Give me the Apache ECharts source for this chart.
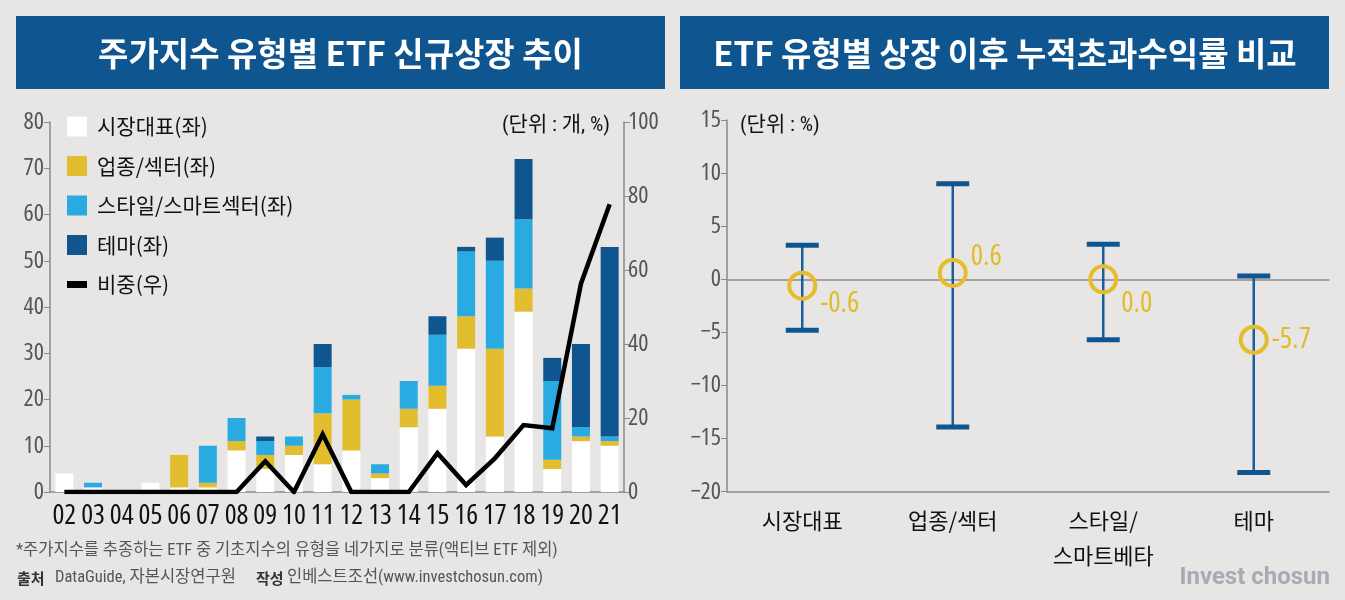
<!DOCTYPE html>
<html>
<head>
<meta charset="utf-8">
<script src="https://cdn.jsdelivr.net/npm/echarts@6/dist/echarts.min.js"></script>
<style>
html,body{margin:0;padding:0;background:#e7e6e4;}
#c{width:1345px;height:600px;}
</style>
</head>
<body>
<div id="c"></div>
<script>
// ---- Left chart data (count of new ETF listings by index type) ----
const years = ['02','03','04','05','06','07','08','09','10','11','12','13','14','15','16','17','18','19','20','21'];
const marketRep  = [4,1,0,2,1,1,9,5,8,6,9,3,14,18,31,12,39,5,11,10];
const sector     = [0,0,0,0,7,1,2,3,2,11,11,1,4,5,7,19,5,2,1,1];
const styleSmart = [0,1,0,0,0,8,5,3,2,10,1,2,6,11,14,19,15,17,2,1];
const theme      = [0,0,0,0,0,0,0,1,0,5,0,0,0,4,1,5,13,5,18,41];
const themeShare = [0,0,0,0,0,0,0,8.3,0,15.6,0,0,0,10.5,1.9,9.1,18.1,17.2,56.3,77.8];
const leftTicks = [0,10,20,30,40,50,60,70,80];
const rightTicks = [0,20,40,60,80,100];

// ---- Right chart data (cumulative excess return after listing, %) ----
const types = ['시장대표','업종/섹터','스타일/\n스마트베타','테마'];
const meanExcess = [-0.6, 0.6, 0.0, -5.7];
const upperExcess = [3.2, 9.0, 3.3, 0.3];
const lowerExcess = [-4.8, -13.9, -5.7, -18.2];
const excessTicks = [-20,-15,-10,-5,0,5,10,15];

// style constants
const NUMFAM = '"Open Sans","Roboto Condensed",sans-serif';
const NUMW = 'condensed';
const KR = '"Noto Sans CJK KR","Noto Sans",sans-serif';
const MIX = '"Roboto Condensed","Noto Sans CJK KR",sans-serif';
const labelDy = [18, -16, 24, 0];

const chart = echarts.init(document.getElementById('c'), null, {renderer:'canvas'});

const barNames = ['시장대표(좌)','업종/섹터(좌)','스타일/스마트섹터(좌)','테마(좌)'];
const barColors = ['#ffffff','#e2bd2e','#29abe2','#0f5590'];
const barData = [marketRep, sector, styleSmart, theme];

const series = barData.map((d, i) => ({
  name: barNames[i], type:'bar', stack:'cnt', xAxisIndex:0, yAxisIndex:0,
  barWidth:18, data: d.map(v => v === 0 ? '-' : v),
  itemStyle:{color: barColors[i]}, z:2
}));
series.push({
  name:'비중(우)', type:'line', xAxisIndex:0, yAxisIndex:1, data: themeShare,
  symbol:'none', lineStyle:{color:'#000', width:4.5, join:'miter'}, itemStyle:{color:'#000'}, z:5
});
series.push({
  type:'custom', xAxisIndex:1, yAxisIndex:2,
  data: types.map((t,i)=>[i, upperExcess[i], lowerExcess[i]]),
  encode:{x:0, y:[1,2]},
  renderItem(params, api){
    const x = api.value(0);
    const pHi = api.coord([x, api.value(1)]);
    const pLo = api.coord([x, api.value(2)]);
    const cw = 33, ch = 5;
    return {type:'group', children:[
      {type:'line', shape:{x1:pHi[0], y1:pHi[1], x2:pLo[0], y2:pLo[1]}, style:{stroke:'#1a5e9c', lineWidth:2.5}},
      {type:'rect', shape:{x:pHi[0]-cw/2, y:pHi[1]-ch/2, width:cw, height:ch}, style:{fill:'#0f5590'}},
      {type:'rect', shape:{x:pLo[0]-cw/2, y:pLo[1]-ch/2, width:cw, height:ch}, style:{fill:'#0f5590'}}
    ]};
  },
  z:3
});
series.push({
  type:'scatter', xAxisIndex:1, yAxisIndex:2,
  data: meanExcess.map((v,i)=>({value:[i,v], label:{offset:[0, labelDy[i]]}})),
  symbol:'circle', symbolSize:26,
  itemStyle:{color:'rgba(0,0,0,0)', borderColor:'#e5bd2c', borderWidth:4, opacity:1},
  label:{show:true, position:'right', distance:3, color:'#e2bb2a', fontFamily:NUMFAM, fontWeight:NUMW, fontSize:29,
    formatter: p => p.value[1].toFixed(1)},
  z:6
});

const lineIcon = 'path://M0,0L20,0Z M0,6.5L20,6.5L20,13.5L0,13.5Z M0,20L20,20Z';

const option = {
  backgroundColor:'#e7e6e4',
  animation:false,
  legend:{
    orient:'vertical', left:62, top:111, itemWidth:20, itemHeight:20, itemGap:18.5,
    textStyle:{fontFamily:KR, fontSize:21, color:'#111', padding:[0,0,0,5]},
    data:[
      {name:barNames[0], icon:'rect'},
      {name:barNames[1], icon:'rect'},
      {name:barNames[2], icon:'rect'},
      {name:barNames[3], icon:'rect'},
      {name:'비중(우)', icon:lineIcon, itemStyle:{color:'#000', borderWidth:0}}
    ],
    selectedMode:false
  },
  grid:[
    {left:50, top:122, width:574, height:370},
    {left:727, top:120, width:602, height:371.7}
  ],
  xAxis:[
    {type:'category', gridIndex:0, data:years, position:'bottom',
     axisLine:{lineStyle:{color:'#8a8a8a', width:1.5}},
     axisTick:{inside:true, length:6, lineStyle:{color:'#8a8a8a'}},
     axisLabel:{interval:0, fontFamily:NUMFAM, fontWeight:NUMW, fontSize:28, color:'#111', margin:10}},
    {type:'category', gridIndex:1, data:types, position:'bottom',
     axisLine:{onZero:false, lineStyle:{color:'#8a8a8a', width:1.5}},
     axisTick:{inside:true, length:6, lineStyle:{color:'#8a8a8a'}},
     axisLabel:{interval:0, fontFamily:KR, fontSize:22, color:'#111', margin:11, lineHeight:35}},
    {type:'category', gridIndex:1, data:types, position:'bottom',
     axisLine:{onZero:true, onZeroAxisIndex:2, lineStyle:{color:'#8a8a8a', width:1.5}},
     axisTick:{inside:true, length:4, lineStyle:{color:'#8a8a8a'}},
     axisLabel:{show:false}},
    {type:'category', gridIndex:1, data:types, position:'bottom',
     axisLine:{onZero:true, onZeroAxisIndex:2, show:false},
     axisTick:{inside:false, length:4, lineStyle:{color:'#8a8a8a'}},
     axisLabel:{show:false}}
  ],
  yAxis:[
    {type:'value', gridIndex:0, min:leftTicks[0], max:leftTicks[leftTicks.length-1], interval:10, position:'left',
     axisLine:{show:true, lineStyle:{color:'#8a8a8a', width:1.5}},
     axisTick:{show:true, length:6, lineStyle:{color:'#8a8a8a'}},
     axisLabel:{fontFamily:NUMFAM, fontWeight:NUMW, fontSize:24, color:'#555', margin:6},
     splitLine:{show:false}},
    {type:'value', gridIndex:0, min:rightTicks[0], max:rightTicks[rightTicks.length-1], interval:20, position:'right',
     axisLine:{show:true, lineStyle:{color:'#8a8a8a', width:1.5}},
     axisTick:{show:true, length:6, lineStyle:{color:'#8a8a8a'}},
     axisLabel:{fontFamily:NUMFAM, fontWeight:NUMW, fontSize:24, color:'#555', margin:4},
     splitLine:{show:false}},
    {type:'value', gridIndex:1, min:excessTicks[0], max:excessTicks[excessTicks.length-1], interval:5, position:'left',
     axisLine:{show:true, lineStyle:{color:'#8a8a8a', width:1.5}},
     axisTick:{show:true, length:6, lineStyle:{color:'#8a8a8a'}},
     axisLabel:{fontFamily:NUMFAM, fontWeight:NUMW, fontSize:24, color:'#555', margin:6, formatter: v => v < 0 ? '\u2212' + Math.abs(v) : String(v)},
     splitLine:{show:false}}
  ],
  graphic:[
    {type:'rect', shape:{x:16, y:16, width:649, height:73}, style:{fill:'#0f5590'}, z:0},
    {type:'rect', shape:{x:680, y:16, width:649, height:73}, style:{fill:'#0f5590'}, z:0},
    {type:'text', x:340.5, y:53, style:{text:'주가지수 유형별 ETF 신규상장 추이', fill:'#fff', font:'bold 33px "Noto Sans CJK KR"', textAlign:'center', textVerticalAlign:'middle'}, z:1},
    {type:'text', x:1005, y:53, style:{text:'ETF 유형별 상장 이후 누적초과수익률 비교', fill:'#fff', font:'bold 33px "Noto Sans CJK KR"', textAlign:'center', textVerticalAlign:'middle'}, z:1},
    {type:'text', x:610, y:126, style:{text:'(단위 : 개, %)', fill:'#111', font:'21px ' + MIX, textAlign:'right', textVerticalAlign:'middle'}},
    {type:'text', x:740, y:126, style:{text:'(단위 : %)', fill:'#111', font:'21px ' + MIX, textAlign:'left', textVerticalAlign:'middle'}},
    {type:'text', x:16, y:551, style:{text:'*주가지수를 추종하는 ETF 중 기초지수의 유형을 네가지로 분류(액티브 ETF 제외)', fill:'#555', font:'16.5px ' + MIX, textVerticalAlign:'middle'}},
    {type:'text', x:17, y:578, style:{text:'출처', fill:'#333', font:'bold 15px "Noto Sans CJK KR"', textVerticalAlign:'middle'}},
    {type:'text', x:55, y:578, style:{text:'DataGuide, 자본시장연구원', fill:'#555', font:'16.5px ' + MIX, textVerticalAlign:'middle'}},
    {type:'text', x:256, y:578, style:{text:'작성', fill:'#333', font:'bold 15px "Noto Sans CJK KR"', textVerticalAlign:'middle'}},
    {type:'text', x:287, y:578, style:{text:'인베스트조선(www.investchosun.com)', fill:'#555', font:'16.5px ' + MIX, textVerticalAlign:'middle'}},
    {type:'text', x:1330, y:578, style:{text:'Invest chosun', fill:'#a7acb4', font:'bold 24px Roboto, sans-serif', textAlign:'right', textVerticalAlign:'middle'}}
  ],
  series: series
};
chart.setOption(option);
</script>
</body>
</html>
